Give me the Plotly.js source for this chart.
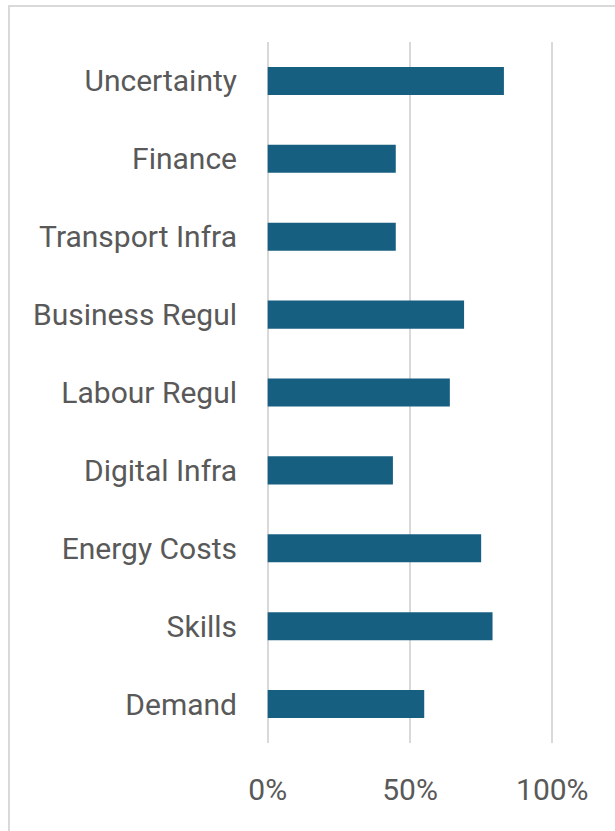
<!DOCTYPE html>
<html><head><meta charset="utf-8">
<script src="https://cdn.plot.ly/plotly-3.0.1.min.js"></script>
<style>
html,body{margin:0;padding:0;background:#fff;overflow:hidden;}
#frame{position:absolute;left:8px;top:5px;width:640px;height:860px;border:2px solid #d9d9d9;box-sizing:border-box;}
#chart{position:absolute;left:0;top:0;width:615px;height:831px;}
</style></head>
<body>
<div id="frame"></div>
<div id="chart"></div>
<script>
const categories = ["Uncertainty","Finance","Transport Infra","Business Regul","Labour Regul","Digital Infra","Energy Costs","Skills","Demand"];
const values = [83, 45, 45, 69, 64, 44, 75, 79, 55];
const tickVals = [0, 50, 100];
const tickText = ["0%", "50%", "100%"];

const trace = {
  type: 'bar',
  orientation: 'h',
  y: categories,
  x: values,
  marker: {color: '#175f81'},
  hoverinfo: 'skip'
};
const layout = {
  width: 615, height: 831,
  margin: {l: 262, r: 57, t: 42, b: 88},
  paper_bgcolor: 'rgba(0,0,0,0)',
  plot_bgcolor: 'rgba(0,0,0,0)',
  bargap: 0.64,
  showlegend: false,
  font: {family: 'Roboto, sans-serif', color: '#595959'},
  xaxis: {
    range: [-2, 102], tickvals: tickVals, ticktext: tickText,
    showgrid: true, gridcolor: '#d9d9d9', gridwidth: 2,
    zeroline: false, showline: false, ticks: '',
    tickfont: {size: 30, color: '#595959'},
    ticklabelstandoff: 26, fixedrange: true
  },
  yaxis: {
    autorange: 'reversed', showgrid: false, zeroline: false, showline: false,
    ticks: '', tickfont: {size: 30, color: '#595959'},
    ticklabelstandoff: 24, fixedrange: true
  }
};
Plotly.newPlot('chart', [trace], layout, {displayModeBar: false, staticPlot: true});
</script>
</body></html>
